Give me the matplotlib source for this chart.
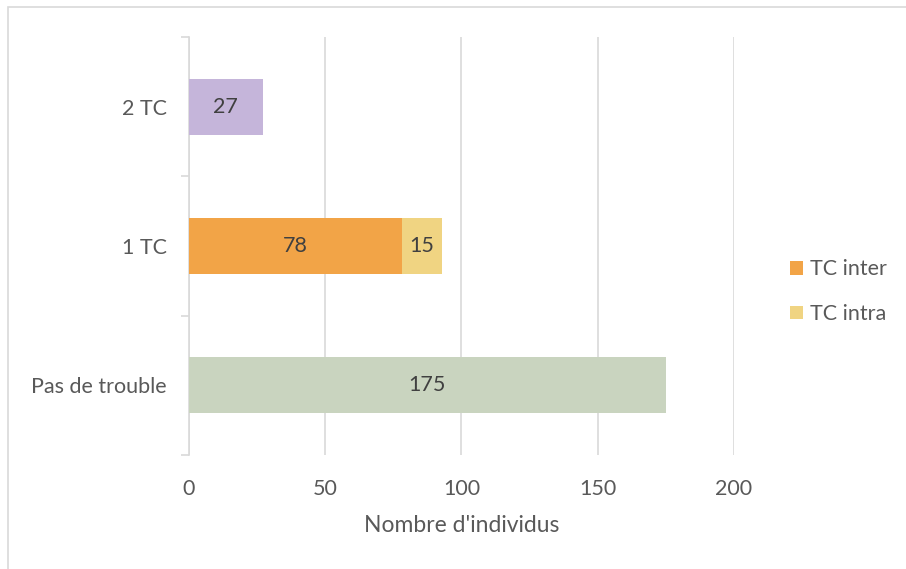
import matplotlib.pyplot as plt
import matplotlib.patches as mpatches
import numpy as np

plt.rcParams['font.family'] = ['Lato', 'DejaVu Sans']

categories = ['Pas de trouble', '1 TC', '2 TC']
sans_trouble = [175, 0, 0]
tc_inter = [0, 78, 0]
tc_intra = [0, 15, 0]
deux_tc = [0, 0, 27]
x_ticks = [0, 50, 100, 150, 200]

txt_col = '#595959'
grid_col = '#d9d9d9'
fs = 15.5

fig = plt.figure(figsize=(9.06, 5.69), dpi=100)
W, H = 906, 569
ax = fig.add_axes([189 / W, 1 - 455 / H, (734 - 189) / W, (455 - 37) / H])

# border around the chart (right and bottom are cut off in the reference)
fig.patches.append(mpatches.Rectangle((8 / W, -0.1), 1.2, 1 - 7 / H + 0.1, transform=fig.transFigure,
                                      fill=False, edgecolor=grid_col, linewidth=1.2))

y = np.arange(len(categories))
h = 0.4

ax.barh(y[0], sans_trouble[0], height=h, color='#c9d4bf', zorder=3)
ax.barh(y[1], tc_inter[1], height=h, color='#f2a447', zorder=3, label='TC inter')
ax.barh(y[1], tc_intra[1], left=tc_inter[1], height=h, color='#f0d482', zorder=3, label='TC intra')
ax.barh(y[2], deux_tc[2], height=h, color='#c5b5da', zorder=3)

# value labels
ax.text(sans_trouble[0] / 2, y[0], str(sans_trouble[0]), ha='center', va='center', fontsize=fs, color='#404040', zorder=4)
ax.text(tc_inter[1] / 2, y[1], str(tc_inter[1]), ha='center', va='center', fontsize=fs, color='#404040', zorder=4)
ax.text(tc_inter[1] + tc_intra[1] / 2, y[1], str(tc_intra[1]), ha='center', va='center', fontsize=fs, color='#404040', zorder=4)
ax.text(deux_tc[2] / 2, y[2], str(deux_tc[2]), ha='center', va='center', fontsize=fs, color='#404040', zorder=4)

ax.set_xlim(0, 200)
ax.set_ylim(-0.5, 2.5)
ax.set_xticks(x_ticks)
ax.set_xticklabels([str(v) for v in x_ticks], fontsize=fs, color=txt_col)
ax.tick_params(axis='x', length=0, pad=17)
ax.xaxis.grid(True, color=grid_col, linewidth=1.2, zorder=0)

ax.set_yticks(y)
ax.set_yticklabels(categories, fontsize=fs, color=txt_col)
ax.set_yticks([-0.5, 0.5, 1.5, 2.5], minor=True)
ax.tick_params(axis='y', which='major', length=0, pad=16)
ax.tick_params(axis='y', which='minor', length=6, color=grid_col, width=1.2)

for s in ['top', 'right', 'bottom']:
    ax.spines[s].set_visible(False)
ax.spines['left'].set_color(grid_col)
ax.spines['left'].set_linewidth(1.2)

ax.set_xlabel("Nombre d'individus", fontsize=16.5, color=txt_col, labelpad=12)

leg = fig.legend(loc='upper left', bbox_to_anchor=(771 / W, 1 - 240 / H), frameon=False,
                 fontsize=fs, handlelength=0.6, handleheight=0.6, handletextpad=0.3,
                 labelspacing=1.15, labelcolor=txt_col)

fig.savefig('out.png', dpi=100)
